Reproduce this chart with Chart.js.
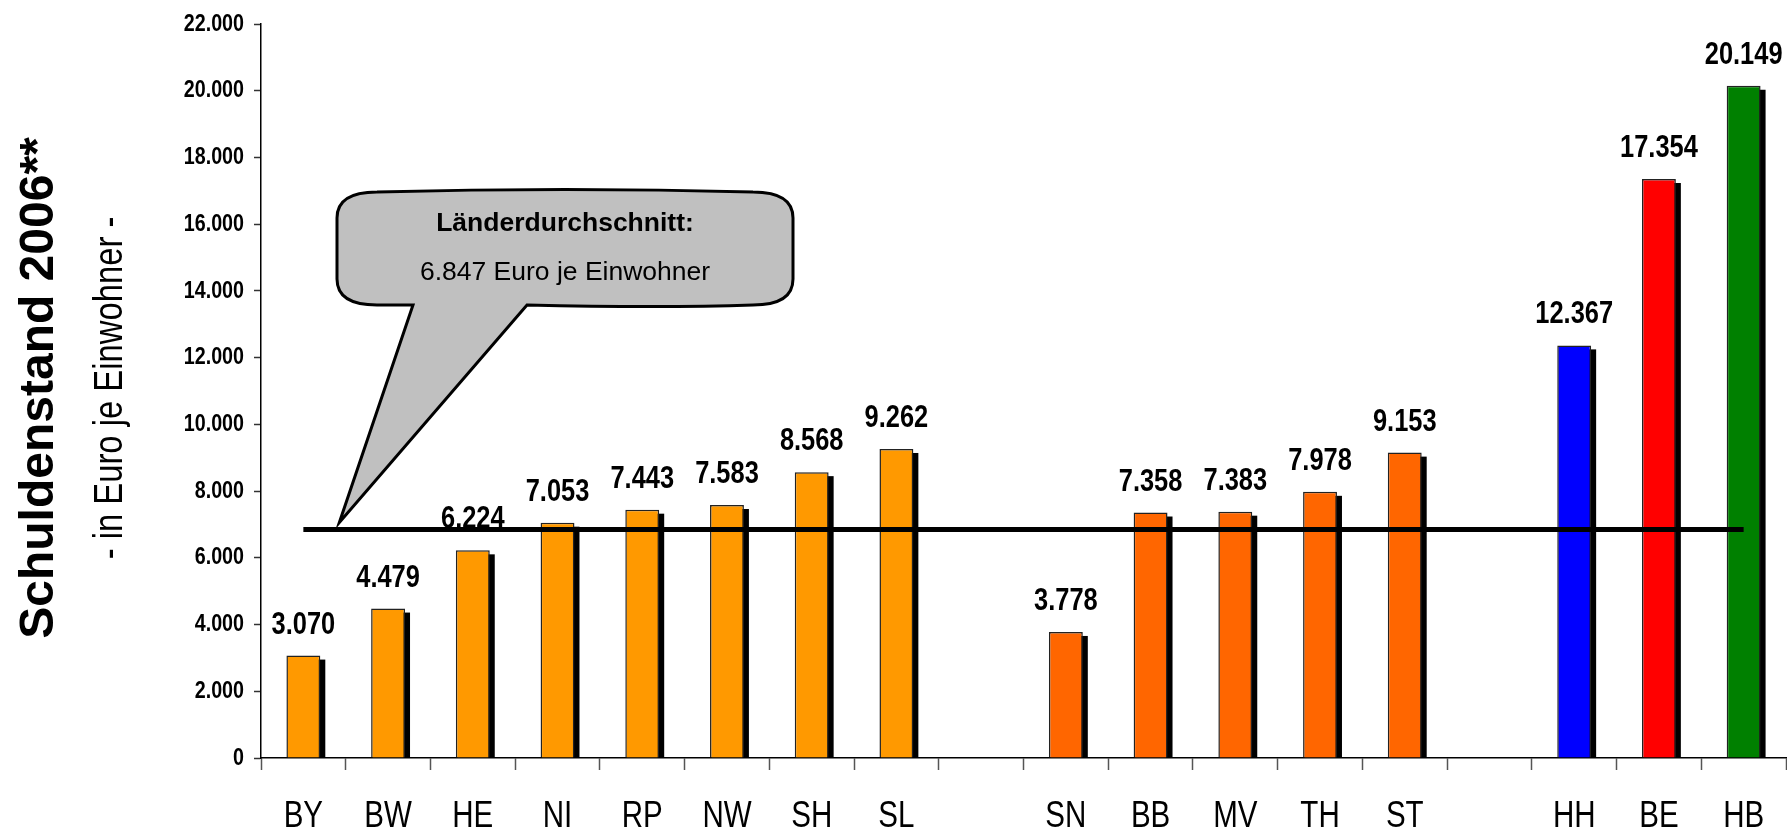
<!DOCTYPE html>
<html>
<head>
<meta charset="utf-8">
<title>Schuldenstand 2006</title>
<script src="https://cdn.jsdelivr.net/npm/chart.js@4.4.1/dist/chart.umd.min.js"></script>
<style>
    html, body { margin: 0; padding: 0; background: #fff; }
    #wrap { position: relative; width: 1787px; height: 832px; }
</style>
</head>
<body>
<div id="wrap"><canvas id="debtChart"></canvas></div>
<script>
// Länder, with two empty slots separating the groups
const categories = ['BY', 'BW', 'HE', 'NI', 'RP', 'NW', 'SH', 'SL', '', 'SN', 'BB', 'MV', 'TH', 'ST', '', 'HH', 'BE', 'HB'];
const debtPerCapita = [3070, 4479, 6224, 7053, 7443, 7583, 8568, 9262, null, 3778, 7358, 7383, 7978, 9153, null, 12367, 17354, 20149];
const barColors = ['#FF9900', '#FF9900', '#FF9900', '#FF9900', '#FF9900', '#FF9900', '#FF9900', '#FF9900', null,
    '#FF6600', '#FF6600', '#FF6600', '#FF6600', '#FF6600', null, '#0000FF', '#FF0000', '#008000'];
const average = 6847;
const yMin = 0;
const yMax = 22000;
const yStep = 2000;

const titleText = 'Schuldenstand 2006**';
const subtitleText = '- in Euro je Einwohner -';
const calloutHead = 'Länderdurchschnitt:';

const ARIAL = "'Liberation Sans', Arial, sans-serif";
const BAR_DATASET = 1;

function formatDe(v) {
    return String(v).replace(/\B(?=(\d{3})+(?!\d))/g, '.');
}

// no Arial Narrow here, so squeeze Liberation Sans the same way
function narrowText(ctx, text, x, y, font, align, baseline) {
    ctx.save();
    ctx.translate(x, y);
    ctx.scale(0.82, 1);
    ctx.font = font;
    ctx.textAlign = align;
    ctx.textBaseline = baseline;
    ctx.fillText(text, 0, 0);
    ctx.restore();
}

const barShadow = {
    id: 'barShadow',
    beforeDatasetsDraw(chart) {
        const ctx = chart.ctx;
        const meta = chart.getDatasetMeta(BAR_DATASET);
        ctx.save();
        ctx.fillStyle = '#000';
        meta.data.forEach(function (bar, i) {
            if (debtPerCapita[i] == null) return;
            const p = bar.getProps(['x', 'y', 'base', 'width'], true);
            ctx.fillRect(p.x - p.width / 2 + 5, p.y + 4, p.width, p.base - p.y - 4);
        });
        ctx.restore();
    }
};

const valueLabels = {
    id: 'valueLabels',
    afterDatasetsDraw(chart) {
        const ctx = chart.ctx;
        const meta = chart.getDatasetMeta(BAR_DATASET);
        ctx.save();
        ctx.fillStyle = '#000';
        meta.data.forEach(function (bar, i) {
            if (debtPerCapita[i] == null) return;
            narrowText(ctx, formatDe(debtPerCapita[i]), bar.x, bar.y - 22, 'bold 31px ' + ARIAL, 'center', 'alphabetic');
        });
        ctx.restore();
    }
};

const tickLabels = {
    id: 'tickLabels',
    afterDraw(chart) {
        const ctx = chart.ctx;
        const x = chart.scales.x;
        const y = chart.scales.y;
        ctx.save();
        ctx.fillStyle = '#000';
        y.ticks.forEach(function (t, i) {
            narrowText(ctx, formatDe(t.value), x.left - 17, y.getPixelForTick(i), 'bold 24px ' + ARIAL, 'right', 'middle');
        });
        x.ticks.forEach(function (t, i) {
            const label = categories[t.value];
            if (!label) return;
            narrowText(ctx, label, x.getPixelForTick(i), 827, '36px ' + ARIAL, 'center', 'alphabetic');
        });
        ctx.restore();
    }
};

const callout = {
    id: 'callout',
    afterDraw(chart) {
        const ctx = chart.ctx;
        const x = chart.scales.x;
        const y = chart.scales.y;
        const left = 337, right = 793, top = 192, bottom = 305;
        const rx = 40, ry = 26;
        const tipX = x.getPixelForValue(0) + 36;
        const tipY = y.getPixelForValue(average) - 7;
        const baseL = 413, baseR = 527;

        ctx.save();
        ctx.beginPath();
        ctx.moveTo(left + rx, top);
        ctx.quadraticCurveTo((left + right) / 2, top - 5, right - rx, top);
        ctx.quadraticCurveTo(right, top, right, top + ry);
        ctx.lineTo(right, bottom - ry);
        ctx.quadraticCurveTo(right, bottom, right - rx, bottom);
        ctx.quadraticCurveTo((baseR + right) / 2, bottom + 3, baseR, bottom);
        ctx.lineTo(tipX, tipY);
        ctx.lineTo(baseL, bottom);
        ctx.lineTo(left + rx, bottom);
        ctx.quadraticCurveTo(left, bottom, left, bottom - ry);
        ctx.lineTo(left, top + ry);
        ctx.quadraticCurveTo(left, top, left + rx, top);
        ctx.closePath();
        ctx.fillStyle = '#C0C0C0';
        ctx.fill();
        ctx.lineWidth = 3;
        ctx.strokeStyle = '#000';
        ctx.stroke();

        ctx.fillStyle = '#000';
        ctx.textAlign = 'center';
        ctx.textBaseline = 'middle';
        ctx.font = 'bold 26.5px ' + ARIAL;
        ctx.fillText(calloutHead, (left + right) / 2, 224);
        ctx.font = '26.5px ' + ARIAL;
        ctx.fillText(formatDe(average) + ' Euro je Einwohner', (left + right) / 2, 273);
        ctx.restore();
    }
};

const axisTitles = {
    id: 'axisTitles',
    afterDraw(chart) {
        const ctx = chart.ctx;
        ctx.save();
        ctx.fillStyle = '#000';

        ctx.save();
        ctx.translate(53, 388);
        ctx.rotate(-Math.PI / 2);
        ctx.font = 'bold 48px ' + ARIAL;
        ctx.textAlign = 'center';
        ctx.textBaseline = 'alphabetic';
        ctx.fillText(titleText, 0, 0);
        ctx.restore();

        ctx.save();
        ctx.translate(122, 388);
        ctx.rotate(-Math.PI / 2);
        narrowText(ctx, subtitleText, 0, 0, '40px ' + ARIAL, 'center', 'alphabetic');
        ctx.restore();

        ctx.restore();
    }
};

function drawChart() {
    const canvas = document.getElementById('debtChart');

    new Chart(canvas, {
        data: {
            labels: categories,
            datasets: [{
                type: 'line',
                label: 'Länderdurchschnitt',
                data: categories.map(function () { return average; }),
                borderColor: '#000',
                borderWidth: 5,
                pointRadius: 0,
                fill: false,
                order: 0
            }, {
                type: 'bar',
                label: 'Schuldenstand',
                data: debtPerCapita,
                backgroundColor: barColors,
                borderColor: '#222',
                borderWidth: 1.5,
                barPercentage: 0.4,
                categoryPercentage: 1.0,
                order: 1
            }]
        },
        options: {
            responsive: true,
            maintainAspectRatio: false,
            animation: false,
            layout: {
                padding: { top: 24, right: 1, left: 0, bottom: 0 }
            },
            plugins: {
                legend: { display: false },
                tooltip: { enabled: false }
            },
            scales: {
                x: {
                    offset: true,
                    grid: {
                        offset: true,
                        drawOnChartArea: false,
                        drawTicks: true,
                        tickLength: 12,
                        tickWidth: 1.5,
                        tickColor: '#555'
                    },
                    border: { display: true, color: '#000', width: 1.5 },
                    ticks: { display: false },
                    afterFit: function (scale) { scale.height = 74; }
                },
                y: {
                    min: yMin,
                    max: yMax,
                    grid: {
                        drawOnChartArea: false,
                        drawTicks: true,
                        tickLength: 7,
                        tickWidth: 1.5,
                        tickColor: '#333'
                    },
                    border: { display: true, color: '#000', width: 1.5 },
                    ticks: {
                        display: false,
                        stepSize: yStep,
                        callback: function (value) { return formatDe(value); }
                    },
                    afterFit: function (scale) { scale.width = 261; }
                }
            }
        },
        plugins: [barShadow, valueLabels, tickLabels, callout, axisTitles]
    });
}

drawChart();
</script>
</body>
</html>
